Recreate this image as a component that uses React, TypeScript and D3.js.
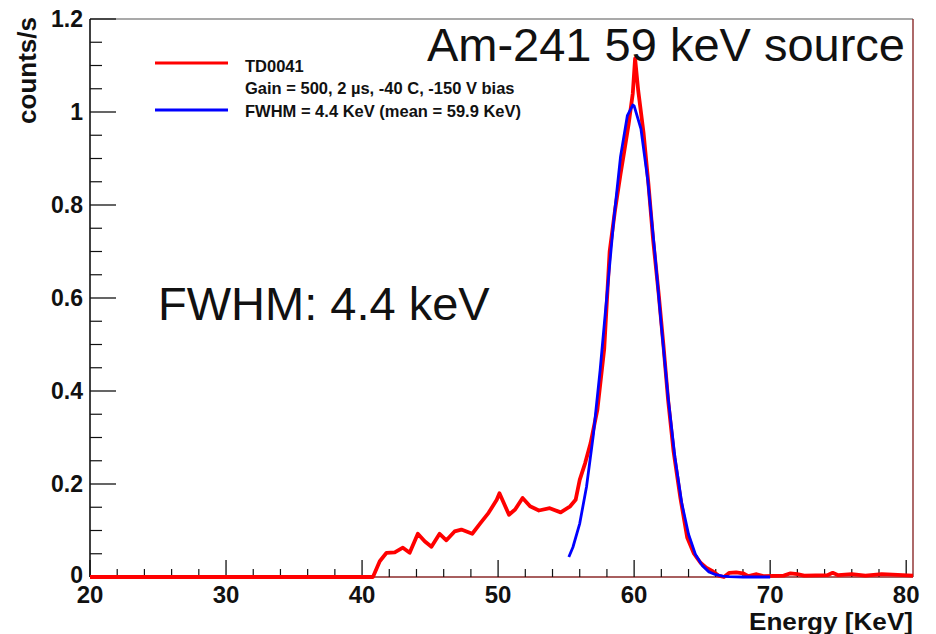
import React from "react";
import * as d3 from "d3";

// ---- data ----
const redEnergy = [20, 40.8, 41.3, 41.8, 42.4, 43.0, 43.5, 44.1, 44.6, 45.1, 45.7, 46.2, 46.8, 47.3, 48.1, 48.7, 49.3, 49.9, 50.1, 50.8, 51.25, 51.8, 52.35, 53.0, 53.8, 54.6, 55.3, 55.7, 56.0, 56.4, 56.8, 57.3, 57.8, 58.2, 58.6, 59.0, 59.3, 59.6, 59.9, 60.07, 60.3, 60.7, 61.05, 61.4, 61.8, 62.15, 62.5, 62.9, 63.4, 63.9, 64.4, 64.9, 65.3, 65.8, 66.2, 66.6, 67.0, 67.5, 68.0, 68.4, 69.0, 69.5, 71.0, 71.5, 72.0, 72.5, 74.2, 74.6, 75.0, 76.0, 77.0, 78.2, 79.0, 80.5];
const redCounts = [0, 0, 0.034, 0.052, 0.053, 0.063, 0.052, 0.093, 0.077, 0.065, 0.093, 0.079, 0.098, 0.102, 0.093, 0.116, 0.138, 0.166, 0.18, 0.134, 0.145, 0.17, 0.152, 0.143, 0.148, 0.139, 0.152, 0.166, 0.209, 0.245, 0.288, 0.36, 0.49, 0.7, 0.79, 0.867, 0.92, 0.975, 1.04, 1.115, 1.046, 0.953, 0.846, 0.724, 0.61, 0.5, 0.38, 0.27, 0.17, 0.085, 0.05, 0.03, 0.02, 0.012, 0.003, 0.0, 0.009, 0.01, 0.008, 0.002, 0.006, 0.002, 0.003, 0.008, 0.006, 0.003, 0.004, 0.009, 0.004, 0.006, 0.003, 0.006, 0.005, 0.003];

const fitEnergy = [55.2, 55.5, 56.0, 56.5, 57.0, 57.5, 58.0, 58.5, 59.0, 59.5, 59.9, 60.0, 60.5, 61.0, 61.5, 62.0, 62.5, 63.0, 63.5, 64.0, 64.5, 65.0, 65.5, 66.0, 66.5, 67.0, 68.0, 70.0];
const fitCounts = [0.043, 0.064, 0.115, 0.194, 0.305, 0.445, 0.606, 0.767, 0.904, 0.992, 1.015, 1.013, 0.964, 0.854, 0.704, 0.54, 0.386, 0.257, 0.159, 0.092, 0.049, 0.025, 0.011, 0.005, 0.002, 0.001, 0, 0];

const xMajorTicks = [20, 30, 40, 50, 60, 70, 80];
const xTickLabels = ["20", "30", "40", "50", "60", "70", "80"];
const yMajorTicks = [0, 0.2, 0.4, 0.6, 0.8, 1.0, 1.2];
const yTickLabels = ["0", "0.2", "0.4", "0.6", "0.8", "1", "1.2"];

const legendLabels = ["TD0041", "Gain = 500, 2 \u00b5s, -40 C, -150 V bias", "FWHM = 4.4 KeV (mean = 59.9 KeV)"];
const title = "Am-241 59 keV source";
const annotation = "FWHM: 4.4 keV";
const xAxisTitle = "Energy [KeV]";
const yAxisTitle = "counts/s";

// ---- layout ----
const W = 936, H = 634;
const L = 90, R = 913, T = 19, B = 577;

export default function App() {
  const x = d3.scaleLinear().domain([20, 80.5]).range([L, R]);
  const y = d3.scaleLinear().domain([0, 1.2]).range([B, T]);

  const red = redEnergy.map((e, i) => [e, redCounts[i]] as [number, number]);
  const fit = fitEnergy.map((e, i) => [e, fitCounts[i]] as [number, number]);
  const line = d3.line<[number, number]>().x(d => x(d[0])).y(d => y(d[1]));

  const xMinor = d3.range(20, 81, 2).filter(v => v % 10 !== 0);
  const yMinor = d3.range(0, 1.2001, 0.05).filter(v => Math.abs(Math.round(v / 0.2) * 0.2 - v) > 1e-6);

  const font = "'Liberation Sans', Arial, Helvetica, sans-serif";

  return (
    <svg width={W} height={H} style={{ position: "absolute", left: 0, top: 0, display: "block", background: "#fff" }} fontFamily={font}>
      <defs>
        <clipPath id="plotclip">
          <rect x={L - 2} y={T} width={R - L + 4} height={B - T + 3} />
        </clipPath>
      </defs>
      <rect x={0} y={0} width={W} height={H} fill="#fff" />

      {/* frame: top and right */}
      <line x1={L} x2={R} y1={T} y2={T} stroke="#555" strokeWidth={1.2} />
      <line x1={R} x2={R} y1={T} y2={B} stroke="#8b2a2a" strokeWidth={1.4} />
      {/* bottom axis */}
      <line x1={L} x2={R} y1={B} y2={B} stroke="#8b2a2a" strokeWidth={1.6} />
      {/* left axis */}
      <line x1={L} x2={L} y1={T} y2={B} stroke="#111" strokeWidth={1.6} />

      {/* y ticks */}
      {yMajorTicks.map((v, i) => (
        <g key={"ym" + i}>
          <line x1={L} x2={L + 26} y1={y(v)} y2={y(v)} stroke="#111" strokeWidth={1.3} />
          <text x={83} y={y(v) - (v === 0 ? 2 : 0)} dy="0.36em" textAnchor="end" fontSize={23} fontWeight="bold" fill="#111">{yTickLabels[i]}</text>
        </g>
      ))}
      {yMinor.map((v, i) => (
        <line key={"yn" + i} x1={L} x2={L + 12} y1={y(v)} y2={y(v)} stroke="#111" strokeWidth={1.2} />
      ))}

      {/* x ticks */}
      {xMajorTicks.map((v, i) => (
        <g key={"xm" + i}>
          <line x1={x(v)} x2={x(v)} y1={B} y2={B - 17} stroke="#111" strokeWidth={1.3} />
          <text x={x(v)} y={602.5} textAnchor="middle" fontSize={24} fontWeight="bold" fill="#111">{xTickLabels[i]}</text>
        </g>
      ))}
      {xMinor.map((v, i) => (
        <line key={"xn" + i} x1={x(v)} x2={x(v)} y1={B} y2={B - 8} stroke="#111" strokeWidth={1.2} />
      ))}

      {/* curves */}
      <g clipPath="url(#plotclip)">
        <path d={line(red) ?? ""} fill="none" stroke="#ff0000" strokeWidth={3.8} strokeLinejoin="round" />
        <path d={line(fit) ?? ""} fill="none" stroke="#0000ff" strokeWidth={2.8} strokeLinejoin="round" />
      </g>

      {/* axis titles */}
      <text x={R} y={629.5} textAnchor="end" fontSize={24} fontWeight="bold" fill="#111" textLength={164} lengthAdjust="spacingAndGlyphs">{xAxisTitle}</text>
      <text transform={`translate(36,17) rotate(-90)`} textAnchor="end" fontSize={26} fontWeight="bold" fill="#111">{yAxisTitle}</text>

      {/* legend */}
      <line x1={155} x2={228} y1={63} y2={63} stroke="#ff0000" strokeWidth={3} />
      <line x1={155} x2={228} y1={110} y2={110} stroke="#0000ff" strokeWidth={3} />
      <text x={245} y={71.5} fontSize={16.5} fontWeight="bold" fill="#111">{legendLabels[0]}</text>
      <text x={245} y={94} fontSize={16.5} fontWeight="bold" fill="#111">{legendLabels[1]}</text>
      <text x={245} y={117} fontSize={16.5} fontWeight="bold" fill="#111">{legendLabels[2]}</text>

      {/* big annotations */}
      <text x={905} y={61} textAnchor="end" fontSize={47} fill="#111">{title}</text>
      <text x={158} y={320} fontSize={47} fill="#111">{annotation}</text>
    </svg>
  );
}
